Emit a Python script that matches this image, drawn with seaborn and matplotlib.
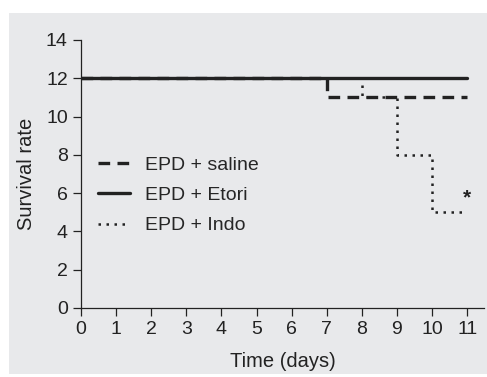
import matplotlib
matplotlib.use("Agg")
import matplotlib.pyplot as plt
import seaborn as sns
import pandas as pd
from matplotlib.patches import Rectangle
from matplotlib.lines import Line2D

days = [0, 1, 2, 3, 4, 5, 6, 7, 8, 9, 10, 11]
saline = [12, 12, 12, 12, 12, 12, 12, 11, 11, 11, 11, 11]
etori = [12, 12, 12, 12, 12, 12, 12, 12, 12, 12, 12, 12]
indo = [12, 12, 12, 12, 12, 12, 12, 12, 11, 8, 5, 5]
labels = ["EPD + saline", "EPD + Etori", "EPD + Indo"]
xticks = list(range(0, 12))
yticks = [0, 2, 4, 6, 8, 10, 12, 14]

sns.set_style("ticks")
plt.rcParams['font.family'] = ['Liberation Sans', 'DejaVu Sans']

W, H = 487, 377
fig = plt.figure(figsize=(W / 100, H / 100), dpi=100)
fig.patch.set_facecolor("white")
bg = "#e8e9eb"
fig.patches.append(Rectangle((9 / W, 1 - 374 / H), 1 - 9 / W, (374 - 13) / H,
                             transform=fig.transFigure, facecolor=bg,
                             edgecolor="none", zorder=-10))

ax = fig.add_axes([81 / W, 1 - 308 / H, (484 - 81) / W, (308 - 40) / H])
ax.set_facecolor(bg)
ax.set_zorder(1)

col = "#222222"
df_s = pd.DataFrame({"day": days, "n": saline})
df_e = pd.DataFrame({"day": days, "n": etori})
df_i = pd.DataFrame({"day": days, "n": indo})

sns.lineplot(data=df_i, x="day", y="n", ax=ax, color=col, lw=1.8,
             linestyle=(0, (1, 2.2)), drawstyle="steps-post", zorder=2)
sns.lineplot(data=df_s, x="day", y="n", ax=ax, color=col, lw=2.4,
             linestyle=(0, (3.5, 2.2)), drawstyle="steps-post", zorder=3)
sns.lineplot(data=df_e, x="day", y="n", ax=ax, color=col, lw=2.4,
             linestyle="-", drawstyle="steps-post", zorder=4)

ax.text(11.0, 5.75, "*", ha="center", va="center", fontsize=15,
        fontweight="bold", color=col)

ax.set_xlim(0, 11.48)
ax.set_ylim(0, 14)
ax.set_xticks(xticks)
ax.set_yticks(yticks)
ax.tick_params(labelsize=14, colors="#222222", length=5.5, width=0.9, pad=4)
for s in ["top", "right"]:
    ax.spines[s].set_visible(False)
for s in ["left", "bottom"]:
    ax.spines[s].set_linewidth(0.9)
    ax.spines[s].set_color("#222222")
ax.set_xlabel("Time (days)", fontsize=14.5, color="#222222", labelpad=10)
ax.set_ylabel("Survival rate", fontsize=14.5, color="#222222", labelpad=7)

handles = [
    Line2D([], [], color=col, lw=2.4, linestyle=(0, (3.5, 2.2))),
    Line2D([], [], color=col, lw=2.4, linestyle="-"),
    Line2D([], [], color=col, lw=1.8, linestyle=(0, (1, 2.2))),
]
ax.legend(handles, labels, loc="center left", bbox_to_anchor=(0.042, 0.42),
          frameon=False, fontsize=14, handlelength=1.65, labelspacing=0.65,
          handletextpad=0.75, borderpad=0, borderaxespad=0)

fig.savefig("out.png", dpi=100)
